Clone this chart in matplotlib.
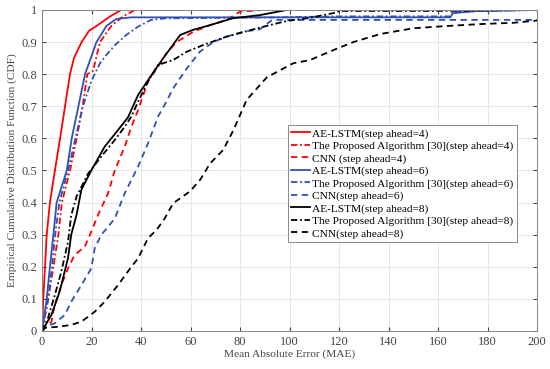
import numpy as np
import matplotlib.pyplot as plt

plt.rcParams['font.family'] = ['Liberation Serif', 'DejaVu Serif']

# -----------------------------
# Data (MAE, CDF)
# -----------------------------
ae4_x = [0, 0.5, 1.9, 3.2, 5.2, 7.3, 9.3, 11.3, 12.9, 16, 19, 22, 27.5, 32]
ae4_y = [0, 0.1, 0.3, 0.4, 0.5, 0.6, 0.7, 0.8, 0.85, 0.9, 0.935, 0.95, 0.98, 1.0]

pa4_x = [0, 2.5, 4.6, 6.6, 8, 11.3, 14, 16.4, 18.3, 20.6, 23.4, 28, 32.7, 37.6]
pa4_y = [0, 0.1, 0.2, 0.3, 0.4, 0.5, 0.6, 0.7, 0.8, 0.81, 0.9, 0.95, 0.98, 1.0]

cnn4_x = [0, 1.1, 3.8, 5.1, 7.8, 10.5, 13.2, 17.3, 19.9, 22.6, 26.7, 29.4, 33.4, 36.1, 38.8,
          42.8, 48.2, 50.2, 54.4, 61.1, 68, 74.6, 80, 89.4]
cnn4_y = [0, 0.008, 0.029, 0.081, 0.143, 0.195, 0.237, 0.263, 0.309, 0.361, 0.429, 0.5, 0.574, 0.636, 0.688,
          0.777, 0.839, 0.865, 0.9, 0.932, 0.953, 0.969, 0.995, 1.0]

ae6_x = [0, 1.9, 3.2, 4.6, 5.9, 10, 12, 14.7, 17.4, 22, 26, 30, 36, 165, 166, 176, 200]
ae6_y = [0, 0.1, 0.2, 0.3, 0.4, 0.5, 0.6, 0.7, 0.8, 0.9, 0.95, 0.972, 0.977, 0.977, 0.99, 0.997, 1.0]

pa6_x = [0, 2.5, 4.0, 5.3, 7, 10.5, 13.5, 16.5, 20, 23.5, 26, 29.4, 34, 38.8, 44, 50, 95, 120, 165, 166, 200]
pa6_y = [0, 0.1, 0.2, 0.3, 0.4, 0.5, 0.6, 0.7, 0.78, 0.835, 0.86, 0.89, 0.922, 0.948, 0.969, 0.974,
         0.977, 0.98, 0.98, 0.995, 1.0]

cnn6_x = [0, 1.1, 5.1, 9.2, 11.8, 15.9, 19.9, 21.3, 24, 29.4, 33.4, 38.8, 42.8, 46.9, 50.2, 53, 58.5,
          63.8, 69.2, 74.6, 81.3, 88, 93, 200]
cnn6_y = [0, 0.013, 0.024, 0.05, 0.091, 0.143, 0.195, 0.258, 0.3, 0.35, 0.429, 0.512, 0.584, 0.668, 0.714,
          0.756, 0.818, 0.87, 0.9, 0.917, 0.932, 0.94, 0.969, 0.969]

ae8_x = [0, 3.8, 7.1, 10.5, 11.8, 13.9, 15.9, 19.9, 25.3, 30.7, 34.7, 38.8, 44.2, 49, 55.8, 61, 68, 77, 88, 99]
ae8_y = [0, 0.05, 0.122, 0.227, 0.3, 0.36, 0.44, 0.5, 0.574, 0.626, 0.665, 0.735, 0.797, 0.85, 0.922,
         0.938, 0.953, 0.974, 0.984, 1.0]

pa8_x = [0, 2.4, 5.1, 7.8, 10.5, 11.8, 14, 18.6, 23.9, 29.4, 33.4, 36.1, 38.8, 42.8, 46.9, 53, 58.5,
         65.2, 74.6, 88, 99, 107, 117.6, 120.4, 161, 200]
pa8_y = [0, 0.04, 0.11, 0.185, 0.278, 0.36, 0.42, 0.49, 0.543, 0.595, 0.636, 0.668, 0.714, 0.777, 0.829,
         0.844, 0.87, 0.891, 0.917, 0.945, 0.966, 0.974, 0.99, 0.997, 0.997, 1.0]

cnn8_x = [0, 1.1, 6.5, 11.8, 15.9, 21.3, 25.3, 30.7, 36.1, 38.8, 42.8, 46.3, 49.6, 53, 59.8, 63.8, 67.9,
          73.2, 77.3, 82.7, 90.8, 101.5, 108.3, 117.7, 125.8, 136.6, 150, 163.5, 177, 190.4, 200]
cnn8_y = [0, 0.01, 0.013, 0.019, 0.029, 0.06, 0.091, 0.143, 0.2, 0.226, 0.289, 0.315, 0.351, 0.398, 0.435,
          0.47, 0.522, 0.564, 0.625, 0.72, 0.79, 0.834, 0.844, 0.875, 0.9, 0.925, 0.943, 0.95, 0.956,
          0.96, 0.967]

red = '#ff0000'
blue = '#3050b4'
black = '#000000'

series = [
    (ae4_x, ae4_y, red, '-', 'AE-LSTM(step ahead=4)'),
    (pa4_x, pa4_y, red, '-.', 'The Proposed Algorithm [30](step ahead=4)'),
    (cnn4_x, cnn4_y, red, '--', 'CNN (step ahead=4)'),
    (ae6_x, ae6_y, blue, '-', 'AE-LSTM(step ahead=6)'),
    (pa6_x, pa6_y, blue, '-.', 'The Proposed Algorithm [30](step ahead=6)'),
    (cnn6_x, cnn6_y, blue, '--', 'CNN(step ahead=6)'),
    (ae8_x, ae8_y, black, '-', 'AE-LSTM(step ahead=8)'),
    (pa8_x, pa8_y, black, '-.', 'The Proposed Algorithm [30](step ahead=8)'),
    (cnn8_x, cnn8_y, black, '--', 'CNN(step ahead=8)'),
]

fig = plt.figure(figsize=(5.5, 3.69), dpi=100)
ax = fig.add_axes([0.0764, 0.103, 0.9, 0.87])

for x, y, c, ls, lab in series:
    if ls == '--':
        ax.plot(x, y, color=c, linestyle=(0, (3.5, 2.5)), linewidth=1.3, label=lab)
    elif ls == '-.':
        ax.plot(x, y, color=c, linestyle=(0, (3.5, 1.5, 1, 1.5)), linewidth=1.3, label=lab)
    else:
        ax.plot(x, y, color=c, linestyle='-', linewidth=1.3, label=lab)

ax.set_xlim(0, 200)
ax.set_ylim(0, 1)
ax.set_xticks(np.arange(0, 201, 20))
ax.set_yticks(np.arange(0, 1.01, 0.1))
ax.set_yticklabels(['0', '0.1', '0.2', '0.3', '0.4', '0.5', '0.6', '0.7', '0.8', '0.9', '1'])
ax.grid(True, color='#e6e6e6', linewidth=0.7)
ax.set_axisbelow(True)
ax.tick_params(direction='in', length=3, labelsize=9, colors='#444444', top=True, right=True)
for s in ax.spines.values():
    s.set_color('#888888')
    s.set_linewidth(0.7)

ax.set_xlabel('Mean Absolute Error (MAE)', fontsize=8.2, color='#444444', labelpad=1)
ax.set_ylabel('Empirical Cumulative Distribution Function (CDF)', fontsize=8.2, color='#444444', labelpad=3)

leg = ax.legend(loc='upper left', bbox_to_anchor=(0.497, 0.642), fontsize=8.2, handlelength=1.6,
                handletextpad=0.2, labelspacing=0.2, borderpad=0.3, borderaxespad=0,
                fancybox=False, framealpha=1, edgecolor='#888888')
leg.get_frame().set_linewidth(0.7)

plt.savefig('out.png', dpi=100)
